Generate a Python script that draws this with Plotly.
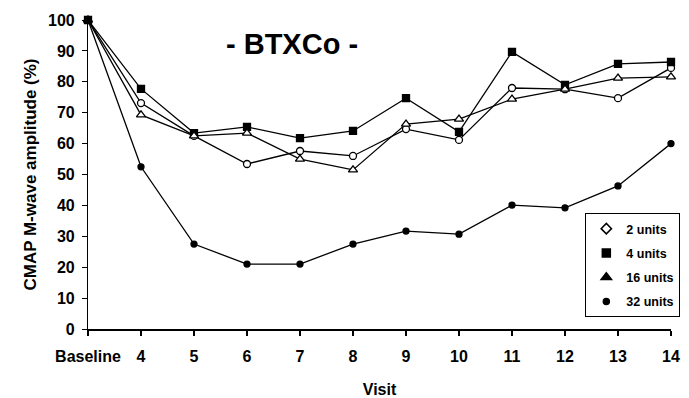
import plotly.graph_objects as go

visits = [3, 4, 5, 6, 7, 8, 9, 10, 11, 12, 13, 14]
visit_labels = ["Baseline", "4", "5", "6", "7", "8", "9", "10", "11", "12", "13", "14"]

units_2 = [100, 73.1, 62.5, 53.4, 57.6, 56.0, 64.7, 61.2, 78.0, 77.6, 74.7, 84.5]
units_4 = [100, 77.7, 63.4, 65.4, 61.8, 64.1, 74.7, 63.8, 89.7, 79.0, 85.8, 86.4]
units_16 = [100, 69.3, 62.5, 63.4, 55.0, 51.5, 66.3, 67.9, 74.4, 77.6, 81.2, 81.6]
units_32 = [100, 52.5, 27.5, 21.0, 21.0, 27.5, 31.7, 30.7, 40.1, 39.2, 46.3, 60.0]

y_ticks = [0, 10, 20, 30, 40, 50, 60, 70, 80, 90, 100]

# name, values, plot symbol, fill, size, legend symbol, legend size
series = [
    ("2 units", units_2, "circle", "white", 7, "diamond-open", 8),
    ("4 units", units_4, "square", "black", 7, "square", 8),
    ("16 units", units_16, "triangle-up", "white", 8, "triangle-up", 9),
    ("32 units", units_32, "circle", "black", 6, "circle", 6),
]

fig = go.Figure()
for name, vals, sym, fill, size, leg_sym, leg_size in series:
    fig.add_trace(go.Scatter(
        x=visits, y=vals, mode="lines+markers", name=name, showlegend=False,
        line=dict(color="black", width=1.3),
        marker=dict(symbol=sym, size=size, color=fill,
                    line=dict(color="black", width=1.3)),
        cliponaxis=False,
    ))
for name, vals, sym, fill, size, leg_sym, leg_size in series:
    fig.add_trace(go.Scatter(
        x=[None], y=[None], mode="markers", name=name, legendgroup=name,
        marker=dict(symbol=leg_sym, size=leg_size, color="black",
                    line=dict(color="black", width=1.5)),
    ))

bold = "Liberation Sans, Arial, sans-serif"
W, H = 689, 398
L, T = 88, 20
R = W - 680
B = H - 329
PW = W - L - R
PH = H - T - B


def px_x(x):  # screen px -> paper fraction
    return (x - L) / PW


def px_y(y):
    return (T + PH - y) / PH


fig.update_layout(
    width=W, height=H,
    margin=dict(l=L, r=R, t=T, b=B),
    paper_bgcolor="white", plot_bgcolor="white",
    font=dict(family=bold, color="black"),
    showlegend=True,
    legend=dict(
        x=px_x(593), y=px_y(213), xanchor="left", yanchor="top",
        bordercolor="black", borderwidth=1, bgcolor="white",
        font=dict(size=12.5, family=bold, weight="bold"),
        traceorder="grouped", tracegroupgap=5,
    ),
    xaxis=dict(
        range=[3, 14], tickmode="array", tickvals=visits, ticktext=visit_labels,
        automargin=False,
        showgrid=False, zeroline=False, showline=True, linecolor="black", linewidth=2,
        ticks="outside", ticklen=5, tickcolor="black", tickwidth=1.5,
        ticklabelstandoff=7,
        tickfont=dict(size=16, weight="bold"),
        title=dict(text="Visit", font=dict(size=16, weight="bold"), standoff=22),
    ),
    yaxis=dict(
        range=[0, 100], tickmode="array", tickvals=y_ticks,
        automargin=False,
        showgrid=False, zeroline=False, showline=True, linecolor="black", linewidth=1.2,
        ticks="outside", ticklen=5, tickcolor="black", tickwidth=1,
        ticklabelstandoff=4,
        tickfont=dict(size=16, weight="bold"),
        title=dict(text="CMAP M-wave amplitude (%)", font=dict(size=17, weight="bold"), standoff=7),
    ),
    annotations=[dict(
        text="- BTXCo -", x=px_x(295), y=px_y(44), xref="paper", yref="paper",
        xanchor="center", yanchor="middle", showarrow=False,
        font=dict(size=29, weight="bold"),
    )],
)

fig.write_html(
    "out.html",
    config={"displayModeBar": False},
    post_script="document.body.style.margin='0';document.body.style.overflow='hidden';",
)
